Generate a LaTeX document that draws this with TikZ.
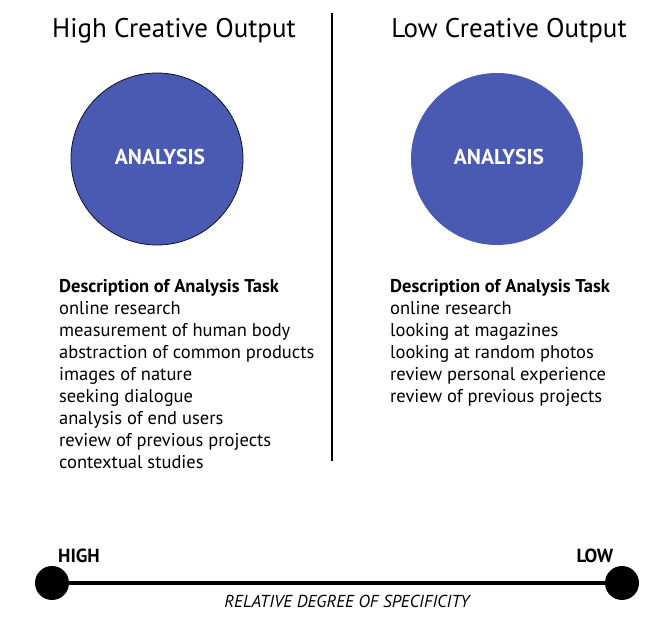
\documentclass[tikz,border=0pt]{standalone}
\usepackage{fontspec}
\setmainfont{PT Sans}
\definecolor{discblue}{RGB}{74,90,178}
\begin{document}
\begin{tikzpicture}[x=1pt,y=-1pt,
  title/.style={font=\fontsize{27}{30}\selectfont, anchor=base},
  disc/.style={circle, fill=discblue, minimum size=172pt, inner sep=0pt},
  disclabel/.style={font=\fontsize{21.5}{24}\selectfont\bfseries, text=white},
  taskblock/.style={font=\fontsize{18.5}{22}\selectfont, align=left, anchor=north west, inner sep=0pt},
  endlabel/.style={font=\fontsize{19}{22}\selectfont\bfseries, anchor=base},
  dot/.style={circle, fill=black, minimum size=34pt, inner sep=0pt}]
\path[use as bounding box, fill=white] (0,0) rectangle (646,631);
% titles
\node[title] (tl) at (174,38) {High Creative Output};
\node[title] (tr) at (509,38) {Low Creative Output};
% divider
\coordinate (vtop) at (332,13);
\coordinate (vbot) at (332,461);
\draw[line width=2.4pt] (vtop) -- (vbot);
% discs
\node[disc, draw=black!80!discblue, line width=0.8pt] (cl) at (157,159) {};
\node[disc] (cr) at (497,159) {};
\node[disclabel] at (160,157) {ANALYSIS};
\node[disclabel] at (499,157) {ANALYSIS};
% task lists
\node[taskblock] (bl) at (59,279.5) {\textbf{Description of Analysis Task}\\
online research\\
measurement of human body\\
abstraction of common products\\
images of nature\\
seeking dialogue\\
analysis of end users\\
review of previous projects\\
contextual studies};
\node[taskblock] (br) at (390,279.5) {\textbf{Description of Analysis Task}\\
online research\\
looking at magazines\\
looking at random photos\\
review personal experience\\
review of previous projects};
% scale
\node[dot] (dl) at (52,583) {};
\node[dot] (dr) at (622,583) {};
\draw[line width=4.5pt] (dl.center) -- (dr.center);
\node[endlabel] (high) at (79,562) {HIGH};
\node[endlabel] (low) at (595,562) {LOW};
\node[font=\fontsize{17.3}{20}\selectfont\itshape, anchor=base] (rel) at (347,607) {RELATIVE DEGREE OF SPECIFICITY};
\end{tikzpicture}
\end{document}
